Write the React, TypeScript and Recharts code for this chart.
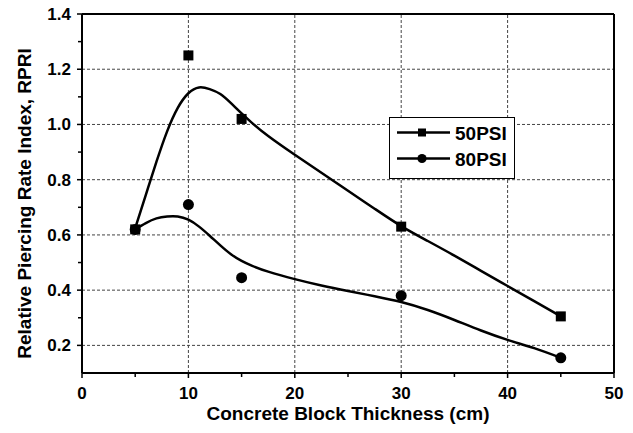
import { ComposedChart, Line, Scatter, XAxis, YAxis, ReferenceLine, Legend } from 'recharts';

// measured points
const thickness = [5, 10, 15, 30, 45];
const rpri50 = [0.62, 1.25, 1.02, 0.63, 0.305];
const rpri80 = [0.62, 0.71, 0.445, 0.38, 0.155];

// fitted curves
const fitX = [5, 6, 7, 8, 9, 10, 11, 12, 13, 14, 15, 16, 17.5, 20, 22.5, 25, 27.5, 30, 32.5, 35, 37.5, 40, 42.5, 45];
const fit50 = [0.625, 0.745, 0.865, 0.975, 1.06, 1.113, 1.134, 1.128, 1.11, 1.077, 1.04, 1.005, 0.958, 0.89, 0.825, 0.76, 0.695, 0.632, 0.578, 0.525, 0.47, 0.415, 0.36, 0.305];
const fit80 = [0.62, 0.643, 0.66, 0.667, 0.667, 0.655, 0.63, 0.597, 0.562, 0.53, 0.506, 0.488, 0.467, 0.44, 0.417, 0.397, 0.378, 0.357, 0.328, 0.292, 0.254, 0.22, 0.19, 0.155];

const seriesNames = ['50PSI', '80PSI'];
const xTitle = 'Concrete Block Thickness (cm)';
const yTitle = 'Relative Piercing Rate Index, RPRI';

const xTicks = [0, 5, 10, 15, 20, 25, 30, 35, 40, 45, 50];
const xMajor = [0, 10, 20, 30, 40, 50];
const yTicks = [0.2, 0.3, 0.4, 0.5, 0.6, 0.7, 0.8, 0.9, 1.0, 1.1, 1.2, 1.3, 1.4];
const yMajor = [0.2, 0.4, 0.6, 0.8, 1.0, 1.2, 1.4];
const gridX = [10, 20, 30, 40];
const gridY = [0.2, 0.4, 0.6, 0.8, 1.0, 1.2];

const font = 'Liberation Sans, Arial, Helvetica, sans-serif';

const points50 = thickness.map((x, i) => ({ x, y: rpri50[i] }));
const points80 = thickness.map((x, i) => ({ x, y: rpri80[i] }));
const curve50 = fitX.map((x, i) => ({ x, y: fit50[i] }));
const curve80 = fitX.map((x, i) => ({ x, y: fit80[i] }));

const isMajor = (list: number[], v: number) => list.some((m) => Math.abs(m - v) < 1e-6);

const XTick = (props: any) => {
  const { x, y, payload } = props;
  const major = isMajor(xMajor, payload.value);
  return (
    <g>
      <line x1={x} x2={x} y1={y} y2={y + (major ? 5 : 4)} stroke="#000" strokeWidth={1.5} />
      {major && (
        <text x={x} y={y + 26} textAnchor="middle" fontFamily={font} fontWeight="bold" fontSize={17} fill="#000">
          {payload.value}
        </text>
      )}
    </g>
  );
};

const YTick = (props: any) => {
  const { x, y, payload } = props;
  const major = isMajor(yMajor, payload.value);
  return (
    <g>
      <line x1={x - (major ? 5 : 4)} x2={x} y1={y} y2={y} stroke="#000" strokeWidth={1.5} />
      {major && (
        <text x={x - 11} y={y + 6} textAnchor="end" fontFamily={font} fontWeight="bold" fontSize={17} fill="#000">
          {payload.value.toFixed(1)}
        </text>
      )}
    </g>
  );
};

const XTitle = (props: any) => {
  const { x, y, width } = props.viewBox;
  return (
    <text x={x + width / 2} y={y + 47} textAnchor="middle" fontFamily={font} fontWeight="bold" fontSize={19} fill="#000">
      {xTitle}
    </text>
  );
};

const YTitle = (props: any) => {
  const { y, height } = props.viewBox;
  const cx = 31;
  const cy = y + height / 2 + 10;
  return (
    <text x={cx} y={cy} transform={`rotate(-90, ${cx}, ${cy})`} textAnchor="middle" fontFamily={font} fontWeight="bold" fontSize={19} fill="#000">
      {yTitle}
    </text>
  );
};

const SquareDot = (props: any) => <rect x={props.cx - 5} y={props.cy - 5} width={10} height={10} fill="#000" />;
const RoundDot = (props: any) => <circle cx={props.cx} cy={props.cy} r={5.5} fill="#000" />;

const LegendBox = () => (
  <svg width={126} height={62} style={{ display: 'block' }}>
    <rect x={0.5} y={0.5} width={125} height={61} fill="#fff" stroke="#000" strokeWidth={1} />
    <line x1={8} x2={61} y1={15.5} y2={15.5} stroke="#000" strokeWidth={2.5} />
    <rect x={29} y={11.5} width={8} height={8} fill="#000" />
    <text x={66} y={23} fontFamily={font} fontWeight="bold" fontSize={19} fill="#000">{seriesNames[0]}</text>
    <line x1={8} x2={61} y1={41.5} y2={41.5} stroke="#000" strokeWidth={2.5} />
    <circle cx={33} cy={41.5} r={4.6} fill="#000" />
    <text x={66} y={49} fontFamily={font} fontWeight="bold" fontSize={19} fill="#000">{seriesNames[1]}</text>
  </svg>
);

export default function App() {
  return (
    <div style={{ width: 633, height: 433, margin: -8 }}>
      <ComposedChart width={633} height={433} margin={{ top: 14, right: 19, bottom: 0, left: 0 }}>
        <XAxis
          type="number"
          dataKey="x"
          domain={[0, 50]}
          ticks={xTicks}
          interval={0}
          height={60}
          tickSize={0}
          tickMargin={0}
          tickLine={false}
          tick={<XTick />}
          axisLine={{ stroke: '#000', strokeWidth: 2 }}
          label={<XTitle />}
        />
        <YAxis
          type="number"
          dataKey="y"
          domain={[0.1, 1.4]}
          ticks={yTicks}
          interval={0}
          width={82}
          tickSize={0}
          tickMargin={0}
          tickLine={false}
          tick={<YTick />}
          axisLine={{ stroke: '#000', strokeWidth: 2 }}
          label={<YTitle />}
        />
        {gridX.map((v) => (
          <ReferenceLine key={`gx${v}`} x={v} stroke="#444" strokeWidth={1} strokeDasharray="3 2" />
        ))}
        {gridY.map((v) => (
          <ReferenceLine key={`gy${v}`} y={v} stroke="#444" strokeWidth={1} strokeDasharray="3 2" />
        ))}
        <ReferenceLine y={1.4} stroke="#000" strokeWidth={2} />
        <ReferenceLine x={50} stroke="#000" strokeWidth={2} />
        <Scatter name={seriesNames[0]} data={points50} dataKey="y" fill="#000" shape={<SquareDot />} isAnimationActive={false} />
        <Scatter name={seriesNames[1]} data={points80} dataKey="y" fill="#000" shape={<RoundDot />} isAnimationActive={false} />
        <Line data={curve50} dataKey="y" type="natural" stroke="#000" strokeWidth={2.5} dot={false} activeDot={false} legendType="none" isAnimationActive={false} />
        <Line data={curve80} dataKey="y" type="natural" stroke="#000" strokeWidth={2.5} dot={false} activeDot={false} legendType="none" isAnimationActive={false} />
        <Legend
          layout="vertical"
          align="center"
          verticalAlign="middle"
          wrapperStyle={{ left: 389, top: 117, width: 126, height: 62 }}
          content={() => <LegendBox />}
        />
      </ComposedChart>
    </div>
  );
}
